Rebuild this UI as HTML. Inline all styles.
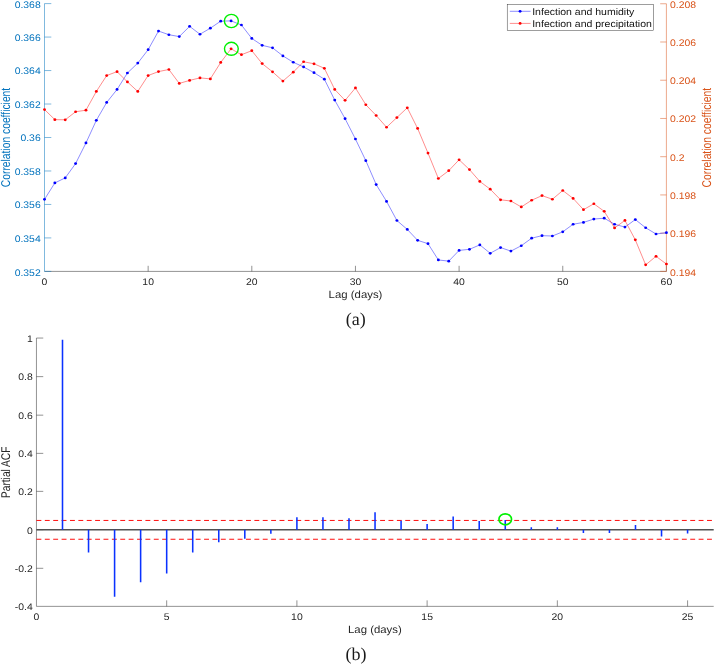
<!DOCTYPE html>
<html><head><meta charset="utf-8"><title>Correlation and partial ACF</title>
<style>html,body{margin:0;padding:0;background:#fff}svg{display:block;text-rendering:geometricPrecision}</style></head><body>
<svg width="715" height="665" viewBox="0 0 715 665">
<rect width="715" height="665" fill="#fff"/>
<g stroke-width="0.5" fill="none">
<path stroke="#262626" d="M44.5,271.4H666.40M148.15,271.4v-5.6M251.80,271.4v-5.6M355.45,271.4v-5.6M459.10,271.4v-5.6M562.75,271.4v-5.6M666.40,271.4v-5.6"/>
<path stroke="#0072BD" d="M44.5,3.6V271.4M44.5,3.60h6.8M44.5,37.07h6.8M44.5,70.55h6.8M44.5,104.02h6.8M44.5,137.50h6.8M44.5,170.97h6.8M44.5,204.45h6.8M44.5,237.92h6.8M44.5,271.40h6.8"/>
<path stroke="#D95319" d="M666.40,3.76V271.4M666.40,3.76h-6.2M666.40,41.99h-6.2M666.40,80.23h-6.2M666.40,118.46h-6.2M666.40,156.70h-6.2M666.40,194.93h-6.2M666.40,233.17h-6.2M666.40,271.40h-6.2"/>
</g>
<text transform="translate(40.70,7.50) scale(1.084,1)" font-family="Liberation Sans, Arial, Helvetica, sans-serif" font-size="9.6" fill="#0072BD" text-anchor="end">0.368</text>
<text transform="translate(40.70,40.97) scale(1.084,1)" font-family="Liberation Sans, Arial, Helvetica, sans-serif" font-size="9.6" fill="#0072BD" text-anchor="end">0.366</text>
<text transform="translate(40.70,74.45) scale(1.084,1)" font-family="Liberation Sans, Arial, Helvetica, sans-serif" font-size="9.6" fill="#0072BD" text-anchor="end">0.364</text>
<text transform="translate(40.70,107.92) scale(1.084,1)" font-family="Liberation Sans, Arial, Helvetica, sans-serif" font-size="9.6" fill="#0072BD" text-anchor="end">0.362</text>
<text transform="translate(40.70,141.40) scale(1.084,1)" font-family="Liberation Sans, Arial, Helvetica, sans-serif" font-size="9.6" fill="#0072BD" text-anchor="end">0.36</text>
<text transform="translate(40.70,174.87) scale(1.084,1)" font-family="Liberation Sans, Arial, Helvetica, sans-serif" font-size="9.6" fill="#0072BD" text-anchor="end">0.358</text>
<text transform="translate(40.70,208.35) scale(1.084,1)" font-family="Liberation Sans, Arial, Helvetica, sans-serif" font-size="9.6" fill="#0072BD" text-anchor="end">0.356</text>
<text transform="translate(40.70,241.82) scale(1.084,1)" font-family="Liberation Sans, Arial, Helvetica, sans-serif" font-size="9.6" fill="#0072BD" text-anchor="end">0.354</text>
<text transform="translate(40.70,276.00) scale(1.084,1)" font-family="Liberation Sans, Arial, Helvetica, sans-serif" font-size="9.6" fill="#0072BD" text-anchor="end">0.352</text>
<text transform="translate(670.00,7.76) scale(1.084,1)" font-family="Liberation Sans, Arial, Helvetica, sans-serif" font-size="9.6" fill="#D95319" text-anchor="start">0.208</text>
<text transform="translate(670.00,45.99) scale(1.084,1)" font-family="Liberation Sans, Arial, Helvetica, sans-serif" font-size="9.6" fill="#D95319" text-anchor="start">0.206</text>
<text transform="translate(670.00,84.23) scale(1.084,1)" font-family="Liberation Sans, Arial, Helvetica, sans-serif" font-size="9.6" fill="#D95319" text-anchor="start">0.204</text>
<text transform="translate(670.00,122.46) scale(1.084,1)" font-family="Liberation Sans, Arial, Helvetica, sans-serif" font-size="9.6" fill="#D95319" text-anchor="start">0.202</text>
<text transform="translate(670.00,160.70) scale(1.084,1)" font-family="Liberation Sans, Arial, Helvetica, sans-serif" font-size="9.6" fill="#D95319" text-anchor="start">0.2</text>
<text transform="translate(670.00,198.93) scale(1.084,1)" font-family="Liberation Sans, Arial, Helvetica, sans-serif" font-size="9.6" fill="#D95319" text-anchor="start">0.198</text>
<text transform="translate(670.00,237.17) scale(1.084,1)" font-family="Liberation Sans, Arial, Helvetica, sans-serif" font-size="9.6" fill="#D95319" text-anchor="start">0.196</text>
<text transform="translate(670.00,276.20) scale(1.084,1)" font-family="Liberation Sans, Arial, Helvetica, sans-serif" font-size="9.6" fill="#D95319" text-anchor="start">0.194</text>
<text transform="translate(44.50,284.70) scale(1.084,1)" font-family="Liberation Sans, Arial, Helvetica, sans-serif" font-size="9.6" fill="#262626" text-anchor="middle">0</text>
<text transform="translate(148.15,284.70) scale(1.084,1)" font-family="Liberation Sans, Arial, Helvetica, sans-serif" font-size="9.6" fill="#262626" text-anchor="middle">10</text>
<text transform="translate(251.80,284.70) scale(1.084,1)" font-family="Liberation Sans, Arial, Helvetica, sans-serif" font-size="9.6" fill="#262626" text-anchor="middle">20</text>
<text transform="translate(355.45,284.70) scale(1.084,1)" font-family="Liberation Sans, Arial, Helvetica, sans-serif" font-size="9.6" fill="#262626" text-anchor="middle">30</text>
<text transform="translate(459.10,284.70) scale(1.084,1)" font-family="Liberation Sans, Arial, Helvetica, sans-serif" font-size="9.6" fill="#262626" text-anchor="middle">40</text>
<text transform="translate(562.75,284.70) scale(1.084,1)" font-family="Liberation Sans, Arial, Helvetica, sans-serif" font-size="9.6" fill="#262626" text-anchor="middle">50</text>
<text transform="translate(666.40,284.70) scale(1.084,1)" font-family="Liberation Sans, Arial, Helvetica, sans-serif" font-size="9.6" fill="#262626" text-anchor="middle">60</text>
<text transform="translate(355.50,297.90) scale(1.084,1)" font-family="Liberation Sans, Arial, Helvetica, sans-serif" font-size="10.5" fill="#262626" text-anchor="middle">Lag (days)</text>
<text transform="translate(10.20,137.50) scale(1.24,1) rotate(-90)" font-family="Liberation Sans, Arial, Helvetica, sans-serif" font-size="10.3" fill="#0072BD" text-anchor="middle">Correlation coefficient</text>
<text transform="translate(711.30,137.70) scale(1.24,1) rotate(-90)" font-family="Liberation Sans, Arial, Helvetica, sans-serif" font-size="10.3" fill="#D95319" text-anchor="middle">Correlation coefficient</text>
<text transform="translate(355.80,324.90) scale(1,1)" font-family="Liberation Serif, Times New Roman, serif" font-size="18" fill="#1a1a1a" text-anchor="middle">(a)</text>
<polyline points="44.50,199.36 54.87,182.91 65.23,177.88 75.59,163.61 85.96,142.97 96.33,120.31 106.69,102.45 117.06,89.46 127.42,73.01 137.78,63.11 148.15,49.68 158.51,31.05 168.88,34.74 179.25,36.59 189.61,26.35 199.97,34.24 210.34,28.20 220.71,21.15 231.07,20.90 241.44,25.01 251.80,38.44 262.16,45.32 272.53,47.83 282.89,55.89 293.26,62.27 303.62,66.97 313.99,72.68 324.36,79.22 334.72,100.10 345.08,118.70 355.45,139.01 365.81,160.66 376.18,184.55 386.55,201.39 396.91,220.52 407.28,229.42 417.64,240.33 428.00,243.68 438.37,259.96 448.74,261.14 459.10,250.40 469.47,249.30 479.83,244.88 490.19,253.28 500.56,247.58 510.93,251.10 521.29,245.73 531.65,238.18 542.02,235.66 552.38,236.00 562.75,231.80 573.12,224.25 583.48,222.40 593.85,219.05 604.21,218.21 614.58,224.25 624.94,227.10 635.31,219.55 645.67,227.77 656.03,233.98 666.40,232.64" fill="none" stroke="#0000ff" stroke-width="0.45"/>
<g fill="#0000ff"><ellipse cx="44.50" cy="199.36" rx="1.45" ry="1.35"/><ellipse cx="54.87" cy="182.91" rx="1.45" ry="1.35"/><ellipse cx="65.23" cy="177.88" rx="1.45" ry="1.35"/><ellipse cx="75.59" cy="163.61" rx="1.45" ry="1.35"/><ellipse cx="85.96" cy="142.97" rx="1.45" ry="1.35"/><ellipse cx="96.33" cy="120.31" rx="1.45" ry="1.35"/><ellipse cx="106.69" cy="102.45" rx="1.45" ry="1.35"/><ellipse cx="117.06" cy="89.46" rx="1.45" ry="1.35"/><ellipse cx="127.42" cy="73.01" rx="1.45" ry="1.35"/><ellipse cx="137.78" cy="63.11" rx="1.45" ry="1.35"/><ellipse cx="148.15" cy="49.68" rx="1.45" ry="1.35"/><ellipse cx="158.51" cy="31.05" rx="1.45" ry="1.35"/><ellipse cx="168.88" cy="34.74" rx="1.45" ry="1.35"/><ellipse cx="179.25" cy="36.59" rx="1.45" ry="1.35"/><ellipse cx="189.61" cy="26.35" rx="1.45" ry="1.35"/><ellipse cx="199.97" cy="34.24" rx="1.45" ry="1.35"/><ellipse cx="210.34" cy="28.20" rx="1.45" ry="1.35"/><ellipse cx="220.71" cy="21.15" rx="1.45" ry="1.35"/><ellipse cx="231.07" cy="20.90" rx="1.45" ry="1.35"/><ellipse cx="241.44" cy="25.01" rx="1.45" ry="1.35"/><ellipse cx="251.80" cy="38.44" rx="1.45" ry="1.35"/><ellipse cx="262.16" cy="45.32" rx="1.45" ry="1.35"/><ellipse cx="272.53" cy="47.83" rx="1.45" ry="1.35"/><ellipse cx="282.89" cy="55.89" rx="1.45" ry="1.35"/><ellipse cx="293.26" cy="62.27" rx="1.45" ry="1.35"/><ellipse cx="303.62" cy="66.97" rx="1.45" ry="1.35"/><ellipse cx="313.99" cy="72.68" rx="1.45" ry="1.35"/><ellipse cx="324.36" cy="79.22" rx="1.45" ry="1.35"/><ellipse cx="334.72" cy="100.10" rx="1.45" ry="1.35"/><ellipse cx="345.08" cy="118.70" rx="1.45" ry="1.35"/><ellipse cx="355.45" cy="139.01" rx="1.45" ry="1.35"/><ellipse cx="365.81" cy="160.66" rx="1.45" ry="1.35"/><ellipse cx="376.18" cy="184.55" rx="1.45" ry="1.35"/><ellipse cx="386.55" cy="201.39" rx="1.45" ry="1.35"/><ellipse cx="396.91" cy="220.52" rx="1.45" ry="1.35"/><ellipse cx="407.28" cy="229.42" rx="1.45" ry="1.35"/><ellipse cx="417.64" cy="240.33" rx="1.45" ry="1.35"/><ellipse cx="428.00" cy="243.68" rx="1.45" ry="1.35"/><ellipse cx="438.37" cy="259.96" rx="1.45" ry="1.35"/><ellipse cx="448.74" cy="261.14" rx="1.45" ry="1.35"/><ellipse cx="459.10" cy="250.40" rx="1.45" ry="1.35"/><ellipse cx="469.47" cy="249.30" rx="1.45" ry="1.35"/><ellipse cx="479.83" cy="244.88" rx="1.45" ry="1.35"/><ellipse cx="490.19" cy="253.28" rx="1.45" ry="1.35"/><ellipse cx="500.56" cy="247.58" rx="1.45" ry="1.35"/><ellipse cx="510.93" cy="251.10" rx="1.45" ry="1.35"/><ellipse cx="521.29" cy="245.73" rx="1.45" ry="1.35"/><ellipse cx="531.65" cy="238.18" rx="1.45" ry="1.35"/><ellipse cx="542.02" cy="235.66" rx="1.45" ry="1.35"/><ellipse cx="552.38" cy="236.00" rx="1.45" ry="1.35"/><ellipse cx="562.75" cy="231.80" rx="1.45" ry="1.35"/><ellipse cx="573.12" cy="224.25" rx="1.45" ry="1.35"/><ellipse cx="583.48" cy="222.40" rx="1.45" ry="1.35"/><ellipse cx="593.85" cy="219.05" rx="1.45" ry="1.35"/><ellipse cx="604.21" cy="218.21" rx="1.45" ry="1.35"/><ellipse cx="614.58" cy="224.25" rx="1.45" ry="1.35"/><ellipse cx="624.94" cy="227.10" rx="1.45" ry="1.35"/><ellipse cx="635.31" cy="219.55" rx="1.45" ry="1.35"/><ellipse cx="645.67" cy="227.77" rx="1.45" ry="1.35"/><ellipse cx="656.03" cy="233.98" rx="1.45" ry="1.35"/><ellipse cx="666.40" cy="232.64" rx="1.45" ry="1.35"/></g>
<polyline points="44.50,109.57 54.87,119.64 65.23,119.81 75.59,111.75 85.96,110.20 96.33,91.47 106.69,75.53 117.06,71.67 127.42,81.91 137.78,91.47 148.15,75.53 158.51,71.58 168.88,69.49 179.25,83.42 189.61,80.40 199.97,77.88 210.34,78.89 220.71,62.44 231.07,48.80 241.44,54.72 251.80,50.69 262.16,63.61 272.53,71.84 282.89,81.07 293.26,72.17 303.62,61.77 313.99,63.78 324.36,68.31 334.72,89.46 345.08,100.37 355.45,87.95 365.81,104.73 376.18,115.51 386.55,127.26 396.91,117.53 407.28,107.79 417.64,128.44 428.00,153.11 438.37,178.50 448.74,170.69 459.10,159.78 469.47,169.60 479.83,181.44 490.19,189.16 500.56,199.80 510.93,201.00 521.29,206.95 531.65,200.24 542.02,195.62 552.38,199.24 562.75,190.51 573.12,198.40 583.48,209.65 593.85,203.77 604.21,211.32 614.58,227.94 624.94,220.39 635.31,239.86 645.67,264.87 656.03,256.31 666.40,264.03" fill="none" stroke="#ff0000" stroke-width="0.45"/>
<g fill="#ff0000"><ellipse cx="44.50" cy="109.57" rx="1.45" ry="1.35"/><ellipse cx="54.87" cy="119.64" rx="1.45" ry="1.35"/><ellipse cx="65.23" cy="119.81" rx="1.45" ry="1.35"/><ellipse cx="75.59" cy="111.75" rx="1.45" ry="1.35"/><ellipse cx="85.96" cy="110.20" rx="1.45" ry="1.35"/><ellipse cx="96.33" cy="91.47" rx="1.45" ry="1.35"/><ellipse cx="106.69" cy="75.53" rx="1.45" ry="1.35"/><ellipse cx="117.06" cy="71.67" rx="1.45" ry="1.35"/><ellipse cx="127.42" cy="81.91" rx="1.45" ry="1.35"/><ellipse cx="137.78" cy="91.47" rx="1.45" ry="1.35"/><ellipse cx="148.15" cy="75.53" rx="1.45" ry="1.35"/><ellipse cx="158.51" cy="71.58" rx="1.45" ry="1.35"/><ellipse cx="168.88" cy="69.49" rx="1.45" ry="1.35"/><ellipse cx="179.25" cy="83.42" rx="1.45" ry="1.35"/><ellipse cx="189.61" cy="80.40" rx="1.45" ry="1.35"/><ellipse cx="199.97" cy="77.88" rx="1.45" ry="1.35"/><ellipse cx="210.34" cy="78.89" rx="1.45" ry="1.35"/><ellipse cx="220.71" cy="62.44" rx="1.45" ry="1.35"/><ellipse cx="231.07" cy="48.80" rx="1.45" ry="1.35"/><ellipse cx="241.44" cy="54.72" rx="1.45" ry="1.35"/><ellipse cx="251.80" cy="50.69" rx="1.45" ry="1.35"/><ellipse cx="262.16" cy="63.61" rx="1.45" ry="1.35"/><ellipse cx="272.53" cy="71.84" rx="1.45" ry="1.35"/><ellipse cx="282.89" cy="81.07" rx="1.45" ry="1.35"/><ellipse cx="293.26" cy="72.17" rx="1.45" ry="1.35"/><ellipse cx="303.62" cy="61.77" rx="1.45" ry="1.35"/><ellipse cx="313.99" cy="63.78" rx="1.45" ry="1.35"/><ellipse cx="324.36" cy="68.31" rx="1.45" ry="1.35"/><ellipse cx="334.72" cy="89.46" rx="1.45" ry="1.35"/><ellipse cx="345.08" cy="100.37" rx="1.45" ry="1.35"/><ellipse cx="355.45" cy="87.95" rx="1.45" ry="1.35"/><ellipse cx="365.81" cy="104.73" rx="1.45" ry="1.35"/><ellipse cx="376.18" cy="115.51" rx="1.45" ry="1.35"/><ellipse cx="386.55" cy="127.26" rx="1.45" ry="1.35"/><ellipse cx="396.91" cy="117.53" rx="1.45" ry="1.35"/><ellipse cx="407.28" cy="107.79" rx="1.45" ry="1.35"/><ellipse cx="417.64" cy="128.44" rx="1.45" ry="1.35"/><ellipse cx="428.00" cy="153.11" rx="1.45" ry="1.35"/><ellipse cx="438.37" cy="178.50" rx="1.45" ry="1.35"/><ellipse cx="448.74" cy="170.69" rx="1.45" ry="1.35"/><ellipse cx="459.10" cy="159.78" rx="1.45" ry="1.35"/><ellipse cx="469.47" cy="169.60" rx="1.45" ry="1.35"/><ellipse cx="479.83" cy="181.44" rx="1.45" ry="1.35"/><ellipse cx="490.19" cy="189.16" rx="1.45" ry="1.35"/><ellipse cx="500.56" cy="199.80" rx="1.45" ry="1.35"/><ellipse cx="510.93" cy="201.00" rx="1.45" ry="1.35"/><ellipse cx="521.29" cy="206.95" rx="1.45" ry="1.35"/><ellipse cx="531.65" cy="200.24" rx="1.45" ry="1.35"/><ellipse cx="542.02" cy="195.62" rx="1.45" ry="1.35"/><ellipse cx="552.38" cy="199.24" rx="1.45" ry="1.35"/><ellipse cx="562.75" cy="190.51" rx="1.45" ry="1.35"/><ellipse cx="573.12" cy="198.40" rx="1.45" ry="1.35"/><ellipse cx="583.48" cy="209.65" rx="1.45" ry="1.35"/><ellipse cx="593.85" cy="203.77" rx="1.45" ry="1.35"/><ellipse cx="604.21" cy="211.32" rx="1.45" ry="1.35"/><ellipse cx="614.58" cy="227.94" rx="1.45" ry="1.35"/><ellipse cx="624.94" cy="220.39" rx="1.45" ry="1.35"/><ellipse cx="635.31" cy="239.86" rx="1.45" ry="1.35"/><ellipse cx="645.67" cy="264.87" rx="1.45" ry="1.35"/><ellipse cx="656.03" cy="256.31" rx="1.45" ry="1.35"/><ellipse cx="666.40" cy="264.03" rx="1.45" ry="1.35"/></g>
<g fill="none" stroke="#00f000" stroke-width="1.4"><ellipse cx="231.37" cy="21.00" rx="7.0" ry="6.6"/><ellipse cx="231.37" cy="48.80" rx="6.9" ry="6.5"/></g>
<rect x="507.2" y="4.35" width="146.4" height="26.2" fill="#fff" stroke="#262626" stroke-width="0.45"/>
<path d="M509.8,11.3H530.6" stroke="#0000ff" stroke-width="0.45"/><ellipse cx="520.1" cy="11.3" rx="1.45" ry="1.35" fill="#0000ff"/>
<path d="M509.8,23.4H530.6" stroke="#ff0000" stroke-width="0.45"/><ellipse cx="520.1" cy="23.4" rx="1.45" ry="1.35" fill="#ff0000"/>
<text transform="translate(532.20,14.90) scale(1.084,1)" font-family="Liberation Sans, Arial, Helvetica, sans-serif" font-size="9.696" fill="#111" text-anchor="start">Infection and humidity</text>
<text transform="translate(532.20,27.10) scale(1.084,1)" font-family="Liberation Sans, Arial, Helvetica, sans-serif" font-size="9.696" fill="#111" text-anchor="start">Infection and precipitation</text>
<g stroke-width="0.5" fill="none" stroke="#262626">
<path d="M36.45,606.36H713.7M166.68,606.36v-6M296.90,606.36v-6M427.12,606.36v-6M557.35,606.36v-6M687.58,606.36v-6"/>
<path d="M36.45,338.06V606.36M36.45,338.06h6.8M36.45,376.63h6.8M36.45,415.16h6.8M36.45,453.37h6.8M36.45,491.37h6.8M36.45,529.7h6.8M36.45,568.3h6.8"/>
</g>
<text transform="translate(32.70,341.86) scale(1.084,1)" font-family="Liberation Sans, Arial, Helvetica, sans-serif" font-size="9.6" fill="#262626" text-anchor="end">1</text>
<text transform="translate(32.70,380.43) scale(1.084,1)" font-family="Liberation Sans, Arial, Helvetica, sans-serif" font-size="9.6" fill="#262626" text-anchor="end">0.8</text>
<text transform="translate(32.70,418.96) scale(1.084,1)" font-family="Liberation Sans, Arial, Helvetica, sans-serif" font-size="9.6" fill="#262626" text-anchor="end">0.6</text>
<text transform="translate(32.70,457.17) scale(1.084,1)" font-family="Liberation Sans, Arial, Helvetica, sans-serif" font-size="9.6" fill="#262626" text-anchor="end">0.4</text>
<text transform="translate(32.70,495.17) scale(1.084,1)" font-family="Liberation Sans, Arial, Helvetica, sans-serif" font-size="9.6" fill="#262626" text-anchor="end">0.2</text>
<text transform="translate(32.70,533.50) scale(1.084,1)" font-family="Liberation Sans, Arial, Helvetica, sans-serif" font-size="9.6" fill="#262626" text-anchor="end">0</text>
<text transform="translate(32.70,572.10) scale(1.084,1)" font-family="Liberation Sans, Arial, Helvetica, sans-serif" font-size="9.6" fill="#262626" text-anchor="end">-0.2</text>
<text transform="translate(32.70,609.87) scale(1.084,1)" font-family="Liberation Sans, Arial, Helvetica, sans-serif" font-size="9.6" fill="#262626" text-anchor="end">-0.4</text>
<text transform="translate(36.45,619.60) scale(1.084,1)" font-family="Liberation Sans, Arial, Helvetica, sans-serif" font-size="9.6" fill="#262626" text-anchor="middle">0</text>
<text transform="translate(166.68,619.60) scale(1.084,1)" font-family="Liberation Sans, Arial, Helvetica, sans-serif" font-size="9.6" fill="#262626" text-anchor="middle">5</text>
<text transform="translate(296.90,619.60) scale(1.084,1)" font-family="Liberation Sans, Arial, Helvetica, sans-serif" font-size="9.6" fill="#262626" text-anchor="middle">10</text>
<text transform="translate(427.12,619.60) scale(1.084,1)" font-family="Liberation Sans, Arial, Helvetica, sans-serif" font-size="9.6" fill="#262626" text-anchor="middle">15</text>
<text transform="translate(557.35,619.60) scale(1.084,1)" font-family="Liberation Sans, Arial, Helvetica, sans-serif" font-size="9.6" fill="#262626" text-anchor="middle">20</text>
<text transform="translate(687.58,619.60) scale(1.084,1)" font-family="Liberation Sans, Arial, Helvetica, sans-serif" font-size="9.6" fill="#262626" text-anchor="middle">25</text>
<text transform="translate(374.90,633.10) scale(1.084,1)" font-family="Liberation Sans, Arial, Helvetica, sans-serif" font-size="10.5" fill="#262626" text-anchor="middle">Lag (days)</text>
<text transform="translate(10.00,472.30) scale(1.24,1) rotate(-90)" font-family="Liberation Sans, Arial, Helvetica, sans-serif" font-size="10.200000000000001" fill="#262626" text-anchor="middle">Partial ACF</text>
<text transform="translate(355.90,660.30) scale(1,1)" font-family="Liberation Serif, Times New Roman, serif" font-size="18" fill="#1a1a1a" text-anchor="middle">(b)</text>
<path d="M36.45,520.45H712.2M36.45,539.25H712.2" stroke="#ff0000" stroke-width="0.95" stroke-dasharray="4.9 3.482" fill="none"/>
<path d="M36.45,529.7H713.7" stroke="#505050" stroke-width="1.6" fill="none"/>
<path stroke="#0a32ff" stroke-width="1.55" fill="none" d="M62.50,529.7V339.70M88.54,529.7V552.40M114.59,529.7V596.70M140.63,529.7V582.20M166.68,529.7V573.50M192.72,529.7V552.50M218.76,529.7V542.30M244.81,529.7V538.70M270.86,529.7V533.70M296.90,529.7V517.26M322.94,529.7V517.26M348.99,529.7V518.27M375.04,529.7V512.20M401.08,529.7V520.80M427.12,529.7V523.97M453.17,529.7V516.42M479.22,529.7V521.10M505.26,529.7V519.95M531.31,529.7V527.20M557.35,529.7V527.30M583.40,529.7V532.90M609.44,529.7V533.00M635.49,529.7V525.00M661.53,529.7V536.60M687.58,529.7V533.60"/>
<ellipse cx="505.25" cy="519.3" rx="6.3" ry="5.5" fill="none" stroke="#00f000" stroke-width="1.65"/>
</svg></body></html>
